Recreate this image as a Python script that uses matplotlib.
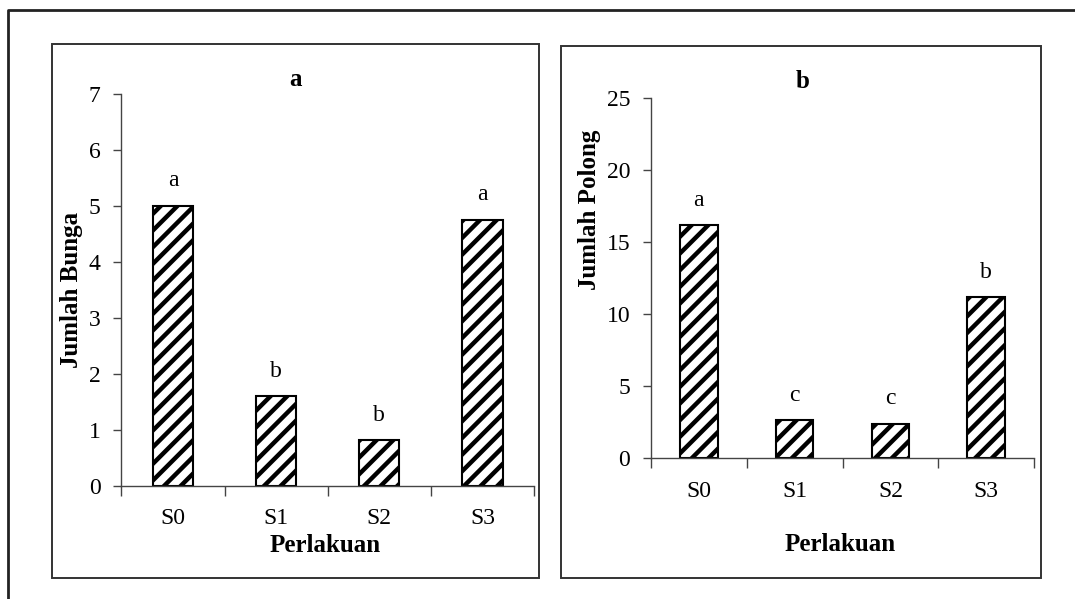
import matplotlib.pyplot as plt
from matplotlib.patches import Rectangle
from matplotlib.lines import Line2D

plt.rcParams['font.family'] = ['Liberation Serif', 'DejaVu Serif']
plt.rcParams['hatch.linewidth'] = 3.2

# data
perlakuan = ['S0', 'S1', 'S2', 'S3']
jumlah_bunga = [5.0, 1.6, 0.82, 4.75]
notasi_bunga = ['a', 'b', 'b', 'a']
jumlah_polong = [16.2, 2.65, 2.4, 11.2]
notasi_polong = ['a', 'c', 'c', 'b']

W, H = 1075, 599
fig = plt.figure(figsize=(W / 100, H / 100), dpi=100)


def px_rect(x0, y0, x1, y1):
    # pixel box (top-left origin) -> figure fraction [left, bottom, width, height]
    return [x0 / W, 1 - y1 / H, (x1 - x0) / W, (y1 - y0) / H]


# outer frame and the two panel boxes
fig.add_artist(Line2D([8 / W, 8 / W, 1.0], [0.0, 1 - 10 / H, 1 - 10 / H],
                      transform=fig.transFigure, color='#222222', lw=2))
for box in [(52, 44, 539, 578), (561, 46, 1041, 578)]:
    l, b, w, h = px_rect(*box)
    fig.add_artist(Rectangle((l, b), w, h, transform=fig.transFigure,
                             fill=False, edgecolor='#333333', lw=1.4))


def draw_panel(rect, values, notes, ymax, ystep, title, ylabel,
               title_xy, ylabel_xy, xlabel_xy):
    ax = fig.add_axes(rect)
    x = list(range(len(perlakuan)))
    ax.bar(x, values, width=0.39, color='white', edgecolor='black',
           linewidth=1.5, hatch='//', zorder=2)
    for xi, v, n in zip(x, values, notes):
        ax.annotate(n, (xi, v), xytext=(0, 14), textcoords='offset points',
                    ha='center', va='baseline', fontsize=17)
    ax.set_xlim(-0.5, len(perlakuan) - 0.5)
    ax.set_ylim(0, ymax)
    ax.set_yticks(range(0, ymax + 1, ystep))
    ax.set_xticks(x)
    ax.set_xticklabels(perlakuan)
    ax.set_xticks([i - 0.5 for i in range(len(perlakuan) + 1)], minor=True)
    ax.tick_params(axis='x', which='major', length=0, pad=16, labelsize=17)
    ax.tick_params(axis='x', which='minor', length=7, width=1, color='#444444',
                   direction='out')
    ax.tick_params(axis='y', length=6, width=1, color='#444444', pad=9,
                   labelsize=17)
    for side in ['top', 'right']:
        ax.spines[side].set_visible(False)
    for side in ['left', 'bottom']:
        ax.spines[side].set_color('#444444')
        ax.spines[side].set_linewidth(1)
    ax.text(title_xy[0], title_xy[1], title, transform=ax.transAxes,
            ha='center', va='center', fontsize=18, fontweight='bold')
    ax.set_ylabel(ylabel, fontsize=18, fontweight='bold', va='center')
    ax.yaxis.set_label_coords(*ylabel_xy)
    ax.set_xlabel('Perlakuan', fontsize=18, fontweight='bold', va='center')
    ax.xaxis.set_label_coords(*xlabel_xy)
    return ax


draw_panel(px_rect(121.4, 93.6, 534, 486.2), jumlah_bunga, notasi_bunga,
           7, 1, 'a', 'Jumlah Bunga',
           (0.423, 1.035), (-0.122, 0.5), (0.493, -0.152))
draw_panel(px_rect(651, 98.2, 1034, 458.4), jumlah_polong, notasi_polong,
           25, 5, 'b', 'Jumlah Polong',
           (0.396, 1.045), (-0.16, 0.69), (0.493, -0.238))

fig.savefig('out.png', dpi=100)
